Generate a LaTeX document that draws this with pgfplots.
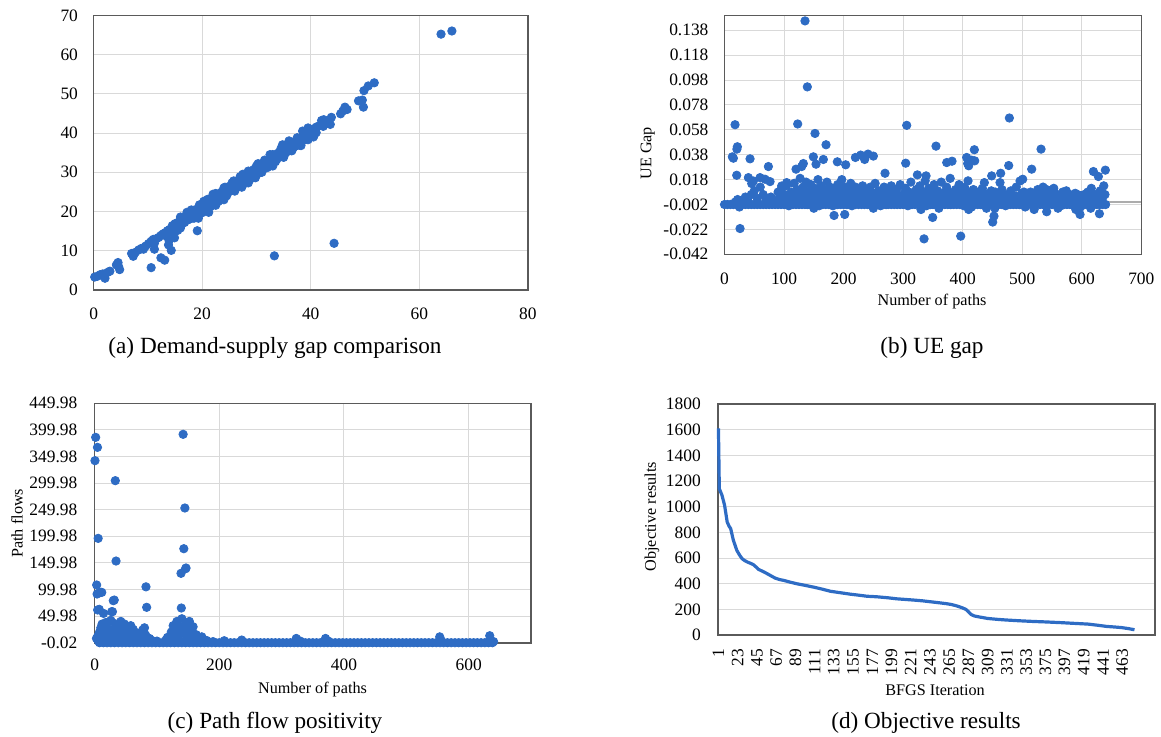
\documentclass[border=0pt]{standalone}
\usepackage{fontspec}
\setmainfont{Liberation Serif}
\usepackage{pgfplots}
\pgfplotsset{compat=1.18}
\definecolor{dot}{RGB}{46,108,196}
\definecolor{gridc}{RGB}{217,217,217}
\definecolor{frame}{RGB}{90,90,90}
\pgfplotsset{
  panel/.style={
    scale only axis, anchor=south west,
    axis line style={frame, line width=0.8pt},
    grid=major, major grid style={gridc, line width=0.5pt},
    major tick length=0pt,
    tick label style={font=\fontsize{8.7}{9.5}\selectfont},
    /pgf/number format/assume math mode=true,
    /pgf/number format/1000 sep={},
    scaled ticks=false,
    clip=false,
  },
  dots/.style={only marks, mark=*, mark size=2.1pt, color=dot, mark options={draw=dot, fill=dot}},
}
\newcommand\labfont{\fontsize{8.1}{10}\selectfont}
\newcommand\capfont{\fontsize{11.6}{13}\selectfont}
\begin{document}
\begin{tikzpicture}
\path[use as bounding box] (0,0) rectangle (580.5pt,368pt);

% (a) demand-supply gap
\begin{axis}[panel, at={(46.8pt,223pt)}, width=217.15pt, height=137.35pt,
  xmin=0, xmax=80, ymin=0, ymax=70, xtick={0,20,...,80}, ytick={0,10,...,70},
  yticklabel shift=4.3pt, xticklabel shift=5.3pt]
\addplot[dots] coordinates {
(0.2,3.3) (0.7,3.5) (1.2,3.9) (1.7,4.1) (2.1,3.0) (2.6,4.5) (3.0,4.8) (4.2,6.4) (4.5,7.0) (4.8,5.2) (4.6,6.0)
(7.0,9.3) (7.3,8.6) (7.7,9.6) (8.3,10.2) (8.8,10.6) (9.2,10.4) (9.6,11.2) (10.1,11.8) (10.6,12.4) (11.0,12.9)
(11.2,11.9) (11.6,13.1) (12.0,13.4) (12.4,13.9) (12.8,14.3) (13.2,14.6) (13.6,15.1) (14.0,15.4) (13.3,13.8) (14.2,14.6)
(10.6,5.7) (12.4,8.2) (13.1,7.6) (11.2,10.4) (13.8,11.5) (14.3,10.1) (14.9,13.3) (13.9,12.6) (15.5,15.2) (16.0,15.8) (19.1,15.1)
(14.5,16.4) (15,16.9) (15.5,17.2) (16,17.9) (16.5,18.2) (17,18.8) (17.5,19.3) (18,19.6) (18.5,20.3) (19,20.6)
(19.5,21.2) (20,21.7) (20.5,22.0) (21,22.6) (21.5,23.1) (22,23.4) (22.5,24.1) (23,24.4) (23.5,24.9) (24,25.5)
(24.5,25.8) (25,26.4) (25.5,26.8) (26,27.4) (26.5,27.7) (27,28.3) (27.5,28.7) (28,29.2) (28.5,29.8) (29,30.1)
(29.5,30.7) (30,31.1) (30.5,31.5) (31,32.1) (31.5,32.5) (32,33.0) (32.5,33.5) (33,33.9) (33.5,34.5) (34,34.9)
(34.5,35.3) (35,35.9) (35.5,36.3) (36,36.8) (36.5,37.3) (37,37.7) (37.5,38.3) (38,38.7) (38.5,39.1) (39,39.7)
(39.5,40.1) (40,40.6) (40.5,41.0) (41,41.5)
(14.75,15.3) (15.25,15.9) (15.75,16.2) (16.25,16.8) (16.75,17.2) (17.25,17.8) (17.75,18.1) (18.25,18.6) (18.75,19.1)
(19.25,19.4) (19.75,20.1) (20.25,20.5) (20.75,20.9) (21.25,21.5) (21.75,21.9) (22.25,22.5) (22.75,22.8) (23.25,23.4)
(23.75,23.9) (24.25,24.2) (24.75,24.8) (25.25,25.3) (25.75,25.6) (26.25,26.3) (26.75,26.7) (27.25,27.1) (27.75,27.7)
(28.25,28.1) (28.75,28.6) (29.25,29.1) (29.75,29.5) (30.25,30.1) (30.75,30.5) (31.25,30.9) (31.75,31.5) (32.25,31.9)
(32.75,32.5) (33.25,32.9) (33.75,33.3) (34.25,33.9) (34.75,34.3) (35.25,34.7) (35.75,35.3) (36.25,35.8) (36.75,36.2)
(37.25,36.7) (37.75,37.2) (38.25,37.6) (38.75,38.2) (39.25,38.6) (39.75,39.0) (40.25,39.6) (40.75,40.1)
(18,20.4) (19.5,21.7) (21,23.1) (22.5,24.6) (24,26.0) (25.5,27.3) (27,28.9) (28.5,30.3) (30,31.6) (31.5,33.1)
(33,34.5) (34.5,36.0) (36,37.4) (37.5,38.8) (39,40.3)
(18.5,18.3) (20,19.7) (21.5,21.2) (23,22.6) (24.5,24.0) (26,25.5) (27.5,26.9) (29,28.4) (30.5,29.8) (32,31.2)
(33.5,32.7) (35,34.0) (36.5,35.5) (38,36.9) (39.5,38.3)
(19.3,18.3) (19.0,18.5) (21.2,19.8) (22.5,21.6) (24.0,23.0) (26.0,25.2) (27.3,26.2) (28.5,27.3) (29.8,28.6)
(31.0,30.0) (33.0,31.6) (35.0,33.8) (36.5,35.5) (38.2,36.8) (40.5,39.0) (24.2,26.2) (25.8,27.8) (27.5,29.5)
(30.3,32.2) (32.5,34.5) (34.8,37.0) (36.0,38.0) (38.5,40.5) (39.5,41.3) (17.2,19.8) (16.0,18.6) (20.3,22.6) (22.0,24.4)
(41.5,41.8) (42.0,43.2) (42.4,43.4) (42.3,41.7) (43.0,42.8) (43.6,42.2) (43.8,44.0) (45.5,44.9) (45.9,45.6)
(46.3,46.6) (46.7,46.0) (48.8,48.2) (49.5,48.4) (49.7,46.6) (49.8,50.8) (50.6,52.0) (51.7,52.8) (40.6,39.4) (41.0,40.1)
(64.0,65.2) (66.0,66.0) (33.3,8.7) (44.3,11.9)
};
\end{axis}

% (b) UE gap
\begin{axis}[panel, at={(362.25pt,240.85pt)}, width=208.4pt, height=119.5pt,
  xmin=0, xmax=700, ymin=-0.042, ymax=0.150, xtick={0,100,...,700},
  ytick={-0.042,-0.022,-0.002,0.018,0.038,0.058,0.078,0.098,0.118,0.138},
  yticklabels={-0.042,-0.022,-0.002,0.018,0.038,0.058,0.078,0.098,0.118,0.138},
  extra y ticks={0}, extra y tick labels={},
  extra y tick style={grid=major, major grid style={gray!65, line width=0.6pt}},
  yticklabel shift=4.5pt, xticklabel shift=5.6pt]
\addplot[dots] coordinates {
(0,-0.002) (5,-0.002) (10,-0.002) (15,-0.002) (20,-0.002) (25,-0.002) (30,-0.002) (35,-0.002) (40,-0.002) (45,-0.002)
(50,-0.002) (55,-0.002) (60,-0.002) (65,-0.002) (70,-0.002) (75,-0.002) (80,-0.002) (85,-0.002) (90,-0.002) (95,-0.002)
(100,-0.002) (105,-0.002) (110,-0.002) (115,-0.002) (120,-0.002) (125,-0.002) (130,-0.002) (135,-0.002) (140,-0.002) (145,-0.002)
(150,-0.002) (155,-0.002) (160,-0.002) (165,-0.002) (170,-0.002) (175,-0.002) (180,-0.002) (185,-0.002) (190,-0.002) (195,-0.002)
(200,-0.002) (205,-0.002) (210,-0.002) (215,-0.002) (220,-0.002) (225,-0.002) (230,-0.002) (235,-0.002) (240,-0.002) (245,-0.002)
(250,-0.002) (255,-0.002) (260,-0.002) (265,-0.002) (270,-0.002) (275,-0.002) (280,-0.002) (285,-0.002) (290,-0.002) (295,-0.002)
(300,-0.002) (305,-0.002) (310,-0.002) (315,-0.002) (320,-0.002) (325,-0.002) (330,-0.002) (335,-0.002) (340,-0.002) (345,-0.002)
(350,-0.002) (355,-0.002) (360,-0.002) (365,-0.002) (370,-0.002) (375,-0.002) (380,-0.002) (385,-0.002) (390,-0.002) (395,-0.002)
(400,-0.002) (405,-0.002) (410,-0.002) (415,-0.002) (420,-0.002) (425,-0.002) (430,-0.002) (435,-0.002) (440,-0.002) (445,-0.002)
(450,-0.002) (455,-0.002) (460,-0.002) (465,-0.002) (470,-0.002) (475,-0.002) (480,-0.002) (485,-0.002) (490,-0.002) (495,-0.002)
(500,-0.002) (505,-0.002) (510,-0.002) (515,-0.002) (520,-0.002) (525,-0.002) (530,-0.002) (535,-0.002) (540,-0.002) (545,-0.002)
(550,-0.002) (555,-0.002) (560,-0.002) (565,-0.002) (570,-0.002) (575,-0.002) (580,-0.002) (585,-0.002) (590,-0.002) (595,-0.002)
(600,-0.002) (605,-0.002) (610,-0.002) (615,-0.002) (620,-0.002) (625,-0.002) (630,-0.002) (635,-0.002) (640,-0.002)
(18,0.000) (22,0.002) (25,-0.004) (30,0.001) (35,0.004) (40,0.000) (45,0.006) (50,0.009) (55,0.003) (60,0.012)
(65,0.006) (70,0.002) (78,0.004) (85,0.001) (90,0.008)
(92,0.003) (95,0.010) (98,0.001) (101,0.006) (104,0.013) (106,-0.001) (109,0.004) (112,0.008) (115,0.000) (117,0.015)
(120,0.005) (122,0.010) (125,0.002) (127,0.019) (130,0.007) (132,0.012) (135,0.001) (137,0.016) (140,0.004) (142,0.009)
(145,0.014) (147,-0.001) (150,0.006) (152,0.011) (155,0.003) (157,0.018) (160,0.008) (162,0.013) (165,0.001) (167,0.010)
(170,0.005) (172,0.016) (175,0.002) (177,0.012) (180,0.007) (182,-0.003) (185,0.010) (187,0.004) (190,0.014) (192,0.001)
(195,0.009) (197,0.018) (200,0.003) (202,0.012) (205,0.006) (207,-0.002) (210,0.010) (212,0.015) (215,0.002) (217,0.007)
(220,0.012) (222,0.000) (225,0.005) (227,0.010) (230,0.003) (232,0.013) (235,0.006) (237,-0.001) (240,0.009) (242,0.004)
(245,0.012) (247,0.001) (250,0.007)
(253,0.015) (256,0.003) (259,0.009) (262,-0.003) (265,0.006) (268,0.012) (271,0.001) (274,0.008) (277,0.004) (280,0.013)
(283,0.000) (286,0.007) (289,0.010) (292,0.003) (295,0.014) (298,-0.001) (301,0.006) (304,0.011) (307,0.002) (310,0.008)
(313,0.016) (316,0.004) (319,0.000) (322,0.010) (325,0.005) (328,0.013) (331,0.001) (334,0.008) (337,0.017) (340,0.003)
(343,0.011) (346,-0.002) (349,0.006) (352,0.014) (355,0.002) (358,0.009) (361,0.005) (364,0.016) (367,0.000) (370,0.008)
(373,0.012) (376,0.003) (379,0.019) (382,0.006) (385,-0.001) (388,0.010) (391,0.004) (394,0.014) (397,0.001) (400,0.008)
(403,0.012) (406,0.003) (409,0.017) (412,0.006) (415,-0.004) (418,0.010)
(421,0.003) (424,0.008) (427,0.000) (430,0.005) (433,0.011) (436,0.002) (439,-0.001) (442,0.006) (445,0.003) (448,0.009)
(451,0.001) (454,-0.005) (457,0.004) (460,0.007) (463,0.000) (466,0.010) (469,0.003) (472,-0.003) (475,0.006) (478,0.002)
(481,0.009) (484,0.000) (487,0.005) (490,0.012) (493,0.002) (496,-0.002) (499,0.007) (502,0.003) (505,-0.004) (508,0.006)
(511,0.001) (514,0.008) (517,0.003) (520,-0.001) (523,0.005) (526,0.010) (529,0.002) (532,0.008) (535,0.012) (538,0.004)
(541,0.010) (544,0.001) (547,0.007) (550,0.003) (553,0.011) (556,0.000) (559,0.006) (562,0.002) (565,-0.003) (568,0.008)
(571,0.004) (574,0.009) (577,0.001) (580,0.006) (583,-0.002) (586,0.003) (589,0.007) (592,0.000) (595,0.004) (598,-0.004)
(601,0.002) (604,0.006) (607,0.000) (610,0.008) (613,0.003) (616,0.011) (619,0.001) (622,0.006) (625,-0.001) (628,0.004)
(631,0.009) (634,0.002) (637,0.013) (639,0.006)
(102,0.004) (108,-0.003) (113,0.002) (119,0.007) (124,-0.001) (129,0.003) (134,0.008) (139,-0.002) (144,0.005) (149,0.001)
(154,0.009) (159,-0.003) (164,0.004) (169,0.000) (174,0.008) (179,0.003) (184,0.005) (189,-0.002) (194,0.006) (199,0.001)
(204,0.009) (209,0.003) (214,-0.003) (219,0.005) (224,0.002) (229,0.008) (234,0.000) (239,0.004) (244,-0.002) (249,0.006)
(254,0.001) (258,0.005) (263,0.008) (267,0.003) (272,-0.002) (276,0.006) (281,0.002) (285,0.010) (290,-0.001) (294,0.005)
(299,0.003) (303,0.008) (308,-0.003) (312,0.004) (317,0.001) (321,0.006) (326,-0.001) (330,0.009) (335,0.004) (339,-0.003)
(344,0.005) (348,0.002) (353,0.008) (357,-0.002) (362,0.003) (366,0.006) (371,0.001) (375,0.009) (380,-0.002) (384,0.004)
(389,0.007) (393,0.000) (398,0.005) (402,-0.003) (407,0.002) (411,0.008) (416,0.004) (420,0.000) (426,0.006) (431,-0.002)
(437,0.007) (443,0.000) (449,0.004) (455,0.008) (461,0.002) (467,0.005) (473,0.000) (479,0.006) (485,0.003) (491,-0.001)
(497,0.004) (503,0.008) (509,0.001) (515,0.005) (521,0.002) (527,0.006) (533,0.000) (539,0.007) (545,0.004) (551,0.007)
(557,0.002) (563,0.005) (569,0.001) (575,0.005) (581,0.002) (587,0.000) (593,0.006) (599,0.001) (605,0.004) (611,-0.001)
(617,0.005) (623,0.002) (629,0.007) (635,0.004)
(150,-0.005) (250,-0.005) (330,-0.006) (360,-0.005) (410,-0.006) (440,-0.005) (520,-0.006) (560,-0.005) (590,-0.006) (615,-0.005)
(135.2,0.1455) (139.1,0.0925) (17.7,0.0621) (122.9,0.0627) (306,0.0616) (478.4,0.0675) (152,0.0551) (170.5,0.046)
(21.6,0.0444) (20.8,0.0425) (355.2,0.0449) (419.6,0.0420) (531.6,0.0425) (13.2,0.0363) (14.9,0.0352) (42.9,0.0347)
(73.7,0.0285) (149.2,0.0363) (153.7,0.0304) (132.4,0.0309) (129.6,0.0285) (120.1,0.0264) (166,0.0342) (189.5,0.0323)
(203.5,0.0299) (219.8,0.0358) (228.7,0.0377) (235.4,0.0342) (241,0.0385) (250,0.0369) (304.3,0.0312) (373.2,0.0317)
(382.1,0.0328) (406.7,0.0358) (415.1,0.0336) (420.2,0.0331) (408.4,0.0309) (410.1,0.0291) (477.3,0.0293) (515.9,0.0264)
(619.5,0.0245) (627.9,0.0205) (639.6,0.0256) (20.5,0.0215) (40.1,0.0196) (48.5,0.0169) (45.7,0.0148) (59.7,0.0196)
(68.1,0.0183) (76.5,0.0164) (96,0.0129) (104.4,0.0156) (269.6,0.0231) (323.9,0.0218) (338.5,0.0210) (436.4,0.0156)
(448.7,0.0210) (463.8,0.0231) (462.7,0.0156) (496.3,0.0169) (500.8,0.0183)
(26.1,-0.0213) (184,-0.0108) (201.9,-0.0100) (335.1,-0.0296) (349.6,-0.0124) (396.7,-0.0274) (450.4,-0.0161)
(452.6,-0.0113) (541.1,-0.0078) (597.1,-0.0100) (629.6,-0.0094)
};
\end{axis}

% (c) path flow positivity
\begin{axis}[panel, at={(47.3pt,46.65pt)}, width=218.2pt, height=119.7pt,
  xmin=0, xmax=700, ymin=-0.02, ymax=449.98, xtick={0,200,400,600},
  ytick={-0.02,49.98,99.98,149.98,199.98,249.98,299.98,349.98,399.98,449.98},
  yticklabels={-0.02,49.98,99.98,149.98,199.98,249.98,299.98,349.98,399.98,449.98},
  yticklabel shift=5.1pt, xticklabel shift=4.8pt]
\addplot[dots] coordinates {
(8,-0.02) (14,-0.02) (20,-0.02) (26,-0.02) (32,-0.02) (38,-0.02) (44,-0.02) (50,-0.02) (56,-0.02) (62,-0.02)
(68,-0.02) (74,-0.02) (80,-0.02) (86,-0.02) (92,-0.02) (98,-0.02) (104,-0.02) (110,-0.02) (116,-0.02) (122,-0.02)
(128,-0.02) (134,-0.02) (140,-0.02) (146,-0.02) (152,-0.02) (158,-0.02) (164,-0.02) (170,-0.02) (176,-0.02) (182,-0.02)
(188,-0.02) (194,-0.02) (200,-0.02) (206,-0.02) (212,-0.02) (218,-0.02) (224,-0.02) (230,-0.02) (236,-0.02) (242,-0.02)
(248,-0.02) (254,-0.02) (260,-0.02) (266,-0.02) (272,-0.02) (278,-0.02) (284,-0.02) (290,-0.02) (296,-0.02) (302,-0.02)
(308,-0.02) (314,-0.02) (320,-0.02) (326,-0.02) (332,-0.02) (338,-0.02) (344,-0.02) (350,-0.02) (356,-0.02) (362,-0.02)
(368,-0.02) (374,-0.02) (380,-0.02) (386,-0.02) (392,-0.02) (398,-0.02) (404,-0.02) (410,-0.02) (416,-0.02) (422,-0.02)
(428,-0.02) (434,-0.02) (440,-0.02) (446,-0.02) (452,-0.02) (458,-0.02) (464,-0.02) (470,-0.02) (476,-0.02) (482,-0.02)
(488,-0.02) (494,-0.02) (500,-0.02) (506,-0.02) (512,-0.02) (518,-0.02) (524,-0.02) (530,-0.02) (536,-0.02) (542,-0.02)
(548,-0.02) (554,-0.02) (560,-0.02) (566,-0.02) (572,-0.02) (578,-0.02) (584,-0.02) (590,-0.02) (596,-0.02) (602,-0.02)
(608,-0.02) (614,-0.02) (620,-0.02) (626,-0.02) (632,-0.02) (638,-0.02)
(208,3.7) (236,5) (323.5,8) (330,3) (370.4,8) (375,3) (553.6,11) (556,4) (633.8,13.1) (634.3,5) (640,2)
(180,4) (190,2) (160,3) (115,6) (100,3) (90,5)
(5,12) (8,20) (10,28) (12,35) (14,25) (16,15) (18,38) (20,30) (22,18) (24,8) (26,42) (28,22) (30,12) (32,36)
(34,28) (36,5) (38,18) (40,30) (42,40) (44,10) (46,25) (48,35) (50,15) (52,3) (54,28) (56,20) (58,32) (60,10)
(62,25) (65,5) (68,18) (70,12) (72,3) (75,8) (78,20) (80,28) (82,14) (85,2) (88,8) (92,4) (96,2)
(3,8) (6,3) (9,6) (13,4) (17,7) (21,3) (27,5) (33,2) (41,4) (47,2) (57,6) (63,2) (69,2) (77,23.8) (76,11.3) (80,17.5)
(7.4,62.7) (14.3,55.1) (4.9,61.5) (30,79) (27.4,58.3) (31.5,80.2) (28.6,58.3) (3.3,108.5) (8.7,94.7) (11.5,94.6)
(4,91.5) (82.4,105) (83.5,66.5) (1.7,386) (4.6,367.2) (0.6,342.2) (33.2,304.6) (5.7,196.1) (34.4,153.5)
(120,5) (123,20) (126,32) (128,12) (130,25) (132,40) (134,8) (136,30) (138,18) (140,45) (142,3) (144,22) (146,35)
(148,12) (150,28) (152,40) (154,6) (156,20) (158,30) (160,10) (163,15) (166,5) (170,8) (172,11) (175,3) (113,3) (117,10)
(142,391.7) (144.8,253.2) (143.1,176.7) (146,139.1) (138.6,130.4) (146.6,140.4) (139.1,65.2)
};
\end{axis}

% (d) objective results
\begin{axis}[panel, at={(359pt,50.5pt)}, width=218.5pt, height=115.5pt,
  xmin=0.5, xmax=500.5, ymin=0, ymax=1800, xmajorgrids=false,
  xtick={1,23,...,463}, ytick={0,200,...,1800},
  xticklabel style={rotate=90, anchor=east},
  yticklabel shift=5.1pt, xticklabel shift=3.6pt]
\addplot[color=dot, line width=1.6pt] coordinates {
(1,1610) (2,1140) (5,1090) (8,1012) (11,881) (13,850) (15,829) (18,740) (20,700) (22,660) (25,625) (28,595)
(31,580) (34,569) (38,558) (41,548) (44,530) (47,511) (52,495) (57,477) (62,458) (66,443) (71,432) (76,425)
(83,412) (91,399) (100,387) (110,373) (120,357) (129,341) (140,330) (152,318) (162,310) (171,302) (182,298)
(195,290) (205,282) (215,277) (225,272) (235,266) (245,258) (255,250) (262,244) (268,237) (274,226) (280,212)
(284,200) (287,182) (290,160) (294,148) (300,140) (309,129) (320,122) (330,117) (345,111) (360,106) (375,102)
(394,96) (410,90) (424,85) (435,76) (445,67) (455,62) (462,58) (470,50) (477,41)
};
\end{axis}

\node[rotate=90, font=\labfont] at (323.9pt,291.35pt) {UE Gap};
\node[font=\labfont] at (466pt,217.15pt) {Number of paths};
\node[rotate=90, font=\labfont] at (8.5pt,106.35pt) {Path flows};
\node[font=\labfont] at (156.25pt,23pt) {Number of paths};
\node[rotate=90, font=\labfont] at (326pt,109.65pt) {Objective results};
\node[font=\labfont] at (467.5pt,23pt) {BFGS Iteration};
\node[font=\capfont] at (137.5pt,194pt) {(a) Demand-supply gap comparison};
\node[font=\capfont] at (466pt,194pt) {(b) UE gap};
\node[font=\capfont] at (137.5pt,6.5pt) {(c) Path flow positivity};
\node[font=\capfont] at (463pt,6.5pt) {(d) Objective results};
\end{tikzpicture}
\end{document}
